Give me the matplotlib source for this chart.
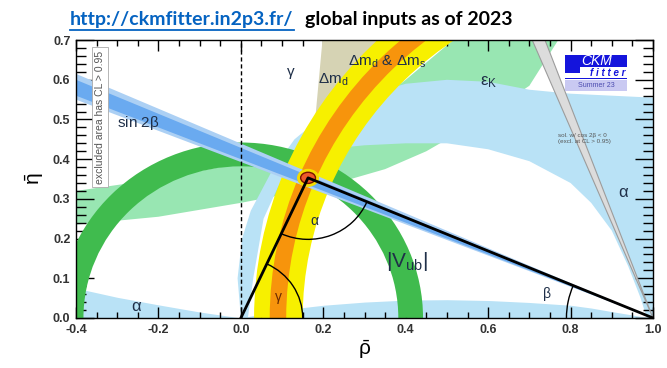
import numpy as np
import matplotlib.pyplot as plt
from matplotlib.patches import Wedge, Ellipse, Arc, Rectangle
from matplotlib.lines import Line2D
from matplotlib.ticker import MultipleLocator, FormatStrFormatter

plt.rcParams['font.family'] = ['Liberation Sans', 'DejaVu Sans']

# ---- constraints, in (rho-bar, eta-bar) ----
# alpha, main solution: outer edge (origin -> round the top -> rho = 1) then inner edge back
alpha_out_rho = [0.0, -0.008, 0.003, 0.024, 0.075, 0.13, 0.2, 0.3, 0.4, 0.5, 0.6, 0.7, 0.8, 0.9, 1.0, 1.0]
alpha_out_eta = [0.0, 0.1, 0.2, 0.27, 0.37, 0.45, 0.51, 0.56, 0.59, 0.60, 0.595, 0.575, 0.565, 0.56, 0.555, 0.0]
alpha_in_rho = [0.985, 0.97, 0.94, 0.9, 0.85, 0.8, 0.7, 0.6, 0.5, 0.4, 0.3, 0.2, 0.13, 0.09, 0.055, 0.03, 0.017]
alpha_in_eta = [0.0, 0.05, 0.13, 0.22, 0.29, 0.34, 0.395, 0.425, 0.44, 0.44, 0.435, 0.425, 0.39, 0.33, 0.25, 0.1, 0.0]
# alpha, the nearly flat solutions along the axis
alpha_left_rho = [-0.4, -0.3, -0.2, -0.1, 0.0]
alpha_left_eta = [0.075, 0.052, 0.033, 0.015, 0.0]
alpha_bot_rho = [0.0, 0.1, 0.2, 0.3, 0.4, 0.5, 0.6, 0.7, 0.8, 0.85, 0.9, 0.97, 1.0]
alpha_bot_eta = [0.0, 0.02, 0.032, 0.04, 0.045, 0.046, 0.044, 0.039, 0.032, 0.025, 0.016, 0.004, 0.0]

# epsilon_K band
epsk_lo_rho = [-0.4, -0.2, 0.0, 0.2, 0.35, 0.45, 0.55, 0.65, 0.7, 0.77]
epsk_lo_eta = [0.235, 0.255, 0.29, 0.33, 0.375, 0.42, 0.48, 0.55, 0.585, 0.70]
epsk_up_rho = [-0.4, -0.2, 0.0, 0.2, 0.3, 0.4, 0.515]
epsk_up_eta = [0.32, 0.35, 0.39, 0.45, 0.52, 0.60, 0.70]

# Delta m_d alone (beige), only its upper part shows
dmd_alone_rho = [0.198, 0.36, 0.20, 0.175]
dmd_alone_eta = [0.70, 0.70, 0.40, 0.44]

# annuli: |Vub| around (0,0), Delta m_d & Delta m_s around (1,0)
vub_radii = [0.382, 0.442]
dm_yellow_radii = [0.85, 0.968]
dm_orange_radii = [0.89, 0.93]

# sin 2beta band edges at rho = -0.4
sin2b_rho_edge = -0.4
sin2b_dark_eta = [0.56, 0.60]
sin2b_light_eta = [0.55, 0.615]

# cos 2beta < 0 solution: band edges at eta = 0.7
cos2b_eta_edge = 0.7
cos2b_rho = [0.707, 0.738]

# global fit (apex of the triangle)
apex_rho, apex_eta = 0.163, 0.353

c_alpha = '#b9e2f6'
c_epsk = '#98e6b2'
c_vub = '#40bb4e'
c_yellow = '#f7f000'
c_orange = '#f7940c'
c_beige = '#d6d3b4'
c_blue_d = '#6aaaf0'
c_blue_l = '#acd0f4'
c_lab = '#1f2f48'

fig = plt.figure(figsize=(6.67, 3.68), dpi=100)
ax = fig.add_axes([0.114, 0.136, 0.865, 0.755])
ax.set_xlim(-0.4, 1.0)
ax.set_ylim(0.0, 0.7)

ax.fill(np.r_[epsk_lo_rho, epsk_up_rho[::-1]], np.r_[epsk_lo_eta, epsk_up_eta[::-1]],
        color=c_epsk, lw=0, zorder=1)
ax.fill(alpha_out_rho + alpha_in_rho, alpha_out_eta + alpha_in_eta, color=c_alpha, lw=0, zorder=2)
ax.fill_between(alpha_left_rho, 0, alpha_left_eta, color=c_alpha, lw=0, zorder=2)
ax.fill_between(alpha_bot_rho, 0, alpha_bot_eta, color=c_alpha, lw=0, zorder=2)

ax.fill(dmd_alone_rho, dmd_alone_eta, color=c_beige, lw=0, zorder=3)
ax.add_patch(Wedge((0, 0), vub_radii[1], 0, 180, width=vub_radii[1] - vub_radii[0],
                   color=c_vub, lw=0, zorder=4))
ax.add_patch(Wedge((1, 0), dm_yellow_radii[1], 90, 180,
                   width=dm_yellow_radii[1] - dm_yellow_radii[0], color=c_yellow, lw=0, zorder=5))
ax.add_patch(Wedge((1, 0), dm_orange_radii[1], 90, 180,
                   width=dm_orange_radii[1] - dm_orange_radii[0], color=c_orange, lw=0, zorder=5))

# sin 2beta wedge from (1,0)
th_l = np.degrees(np.arctan2(sin2b_light_eta, sin2b_rho_edge - 1.0))
th_d = np.degrees(np.arctan2(sin2b_dark_eta, sin2b_rho_edge - 1.0))
ax.add_patch(Wedge((1, 0), 1.6, th_l.min(), th_l.max(), color=c_blue_l, lw=0, zorder=6))
ax.add_patch(Wedge((1, 0), 1.6, th_d.min(), th_d.max(), color=c_blue_d, lw=0, zorder=6))

# cos 2beta < 0 solution (grey)
th_g = np.degrees(np.arctan2([cos2b_eta_edge] * 2, np.array(cos2b_rho) - 1.0))
ax.add_patch(Wedge((1, 0), 1.0, th_g.min(), th_g.max(), fc='#dcdcdc', ec='#9c9c9c', lw=0.8, zorder=6))

# global fit
ax.add_patch(Ellipse((apex_rho, apex_eta), 0.05, 0.042, color='#f5dc00', zorder=8))
ax.add_patch(Ellipse((apex_rho, apex_eta), 0.036, 0.028, fc='#ee5a2a', ec='#7a1400', lw=1, zorder=9))

# unitarity triangle
ax.plot([0, apex_rho, 1], [0, apex_eta, 0], color='black', lw=2, zorder=10)
ax.axvline(0, color='black', lw=1, ls=(0, (3, 2)), zorder=10)

a_left = np.degrees(np.arctan2(-apex_eta, -apex_rho))
a_right = np.degrees(np.arctan2(-apex_eta, 1 - apex_rho)) + 360
ax.add_patch(Arc((apex_rho, apex_eta), 0.31, 0.31, theta1=a_left, theta2=a_right, lw=1, zorder=10))
g_ang = np.degrees(np.arctan2(apex_eta, apex_rho))
ax.add_patch(Arc((0, 0), 0.3, 0.3, theta1=0, theta2=g_ang, lw=1, zorder=10))
b_ang = np.degrees(np.arctan2(apex_eta, apex_rho - 1))
ax.add_patch(Arc((1, 0), 0.42, 0.42, theta1=b_ang, theta2=180, lw=1, zorder=10))

# labels
ax.text(-0.30, 0.49, r'sin 2$\mathregular{\beta}$', fontsize=11, color=c_lab, va='center', zorder=11)
ax.text(0.12, 0.617, r'$\mathregular{\gamma}$', fontsize=11, color=c_lab, ha='center', va='center', zorder=11)
ax.text(0.224, 0.60, r'$\mathregular{\Delta m_d}$', fontsize=11, color=c_lab, ha='center', va='center', zorder=11)
ax.text(0.355, 0.645, r'$\mathregular{\Delta m_d}$ & $\mathregular{\Delta m_s}$', fontsize=11,
        color=c_lab, ha='center', va='center', zorder=11)
ax.text(0.60, 0.594, r'$\mathregular{\varepsilon_K}$', fontsize=12, color=c_lab, ha='center', va='center', zorder=11)
ax.text(0.928, 0.317, r'$\mathregular{\alpha}$', fontsize=12, color=c_lab, ha='center', va='center', zorder=11)
ax.text(-0.252, 0.03, r'$\mathregular{\alpha}$', fontsize=12, color=c_lab, ha='center', va='center', zorder=11)
ax.text(0.18, 0.245, r'$\mathregular{\alpha}$', fontsize=10, color=c_lab, ha='center', va='center', zorder=11)
ax.text(0.09, 0.05, r'$\mathregular{\gamma}$', fontsize=10, color='#6a2a00', ha='center', va='center', zorder=11)
ax.text(0.743, 0.06, r'$\mathregular{\beta}$', fontsize=10, color=c_lab, ha='center', va='center', zorder=11)
ax.text(0.403, 0.141, r'$\mathregular{|V_{ub}|}$', fontsize=15, color=c_lab, ha='center', va='center', zorder=11)

ax.text(-0.342, 0.506, 'excluded area has CL > 0.95', rotation=90, fontsize=7.5, color='#555555',
        ha='center', va='center', zorder=11,
        bbox=dict(boxstyle='square,pad=0.3', fc='white', ec='#aaaaaa', lw=0.6))
ax.text(0.77, 0.452, 'sol. w/ cos 2\u03b2 < 0\n(excl. at CL > 0.95)', fontsize=4.5, color='#555555',
        ha='left', va='center', linespacing=1.2, zorder=11)

# CKMfitter logo
ax.add_patch(Rectangle((0.787, 0.632), 0.15, 0.03, color='#1414dc', lw=0, zorder=11))
ax.add_patch(Rectangle((0.787, 0.618), 0.035, 0.016, color='#1414dc', lw=0, zorder=11))
ax.add_patch(Rectangle((0.787, 0.602), 0.15, 0.003, color='#1414dc', lw=0, zorder=11))
ax.add_patch(Rectangle((0.787, 0.572), 0.15, 0.027, color='#c9c9f2', lw=0, zorder=11))
ax.text(0.862, 0.647, 'CKM', fontsize=10, style='italic', color='white', ha='center', va='center', zorder=12)
ax.text(0.932, 0.618, 'f i t t e r', fontsize=7, style='italic', fontweight='bold', color='#1414dc',
        ha='right', va='center', zorder=12)
ax.text(0.862, 0.586, 'Summer 23', fontsize=5, color='#4a4ab0', ha='center', va='center', zorder=12)

# axes
ax.xaxis.set_major_locator(MultipleLocator(0.2))
ax.xaxis.set_minor_locator(MultipleLocator(0.05))
ax.yaxis.set_major_locator(MultipleLocator(0.1))
ax.yaxis.set_minor_locator(MultipleLocator(0.02))
ax.xaxis.set_major_formatter(FormatStrFormatter('%.1f'))
ax.yaxis.set_major_formatter(FormatStrFormatter('%.1f'))
ax.tick_params(which='both', direction='in', top=True, right=True, width=1, color='black', zorder=12)
ax.tick_params(axis='x', which='major', length=8)
ax.tick_params(axis='x', which='minor', length=4)
ax.tick_params(axis='y', which='major', length=13)
ax.tick_params(axis='y', which='minor', length=7)
ax.tick_params(which='major', labelsize=9, labelcolor='#333333', pad=4)
for lab in ax.get_xticklabels() + ax.get_yticklabels():
    lab.set_fontweight('bold')
for s in ax.spines.values():
    s.set_linewidth(1)
    s.set_zorder(12)
ax.set_axisbelow(False)

ax.set_xlabel(r'$\mathregular{\bar{\rho}}$', fontsize=15, labelpad=2)
ax.set_ylabel(r'$\mathregular{\bar{\eta}}$', fontsize=15, labelpad=5)

# header
t1 = fig.text(70 / 667, 1 - 20 / 368, 'http://ckmfitter.in2p3.fr/', fontsize=14, fontweight='bold',
              color='#0563c1', family='Lato', ha='left', va='center')
fig.text(305 / 667, 1 - 20 / 368, 'global inputs as of 2023', fontsize=14, fontweight='bold',
         color='black', family='Lato', ha='left', va='center')
fig.canvas.draw()
bb = t1.get_window_extent()
fig.add_artist(Line2D([bb.x0 / 667, bb.x1 / 667], [(bb.y0 - 1) / 368] * 2, color='#0563c1', lw=1.3))

plt.savefig('out.png', dpi=100)
